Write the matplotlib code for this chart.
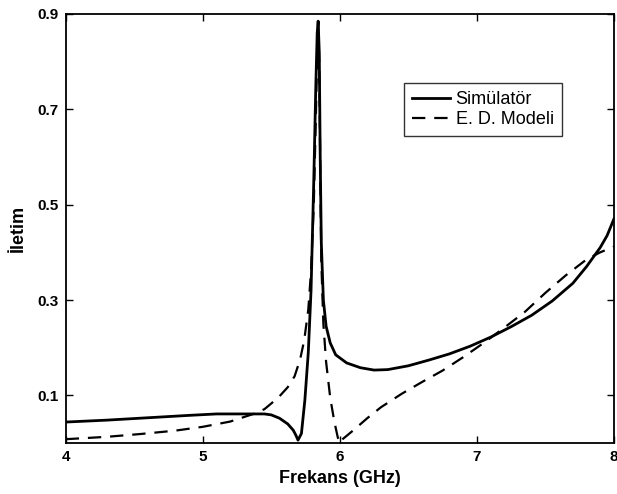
import matplotlib
matplotlib.use("Agg")
import matplotlib.pyplot as plt

plt.rcParams["font.family"] = ["Liberation Sans", "DejaVu Sans"]

# Simulated transmission
sim_freq = [4.0, 4.3, 4.6, 4.9, 5.1, 5.3, 5.45, 5.5, 5.56, 5.62, 5.66, 5.68,
            5.695, 5.72, 5.745, 5.77, 5.79, 5.81, 5.825, 5.835, 5.842, 5.85,
            5.857, 5.865, 5.88, 5.9, 5.93, 5.97, 6.05, 6.15, 6.25, 6.35, 6.5,
            6.65, 6.8, 6.95, 7.1, 7.25, 7.4, 7.55, 7.7, 7.8, 7.9, 7.95, 8.0]
sim_trans = [0.044, 0.048, 0.053, 0.058, 0.061, 0.061, 0.061, 0.059, 0.052, 0.040,
             0.027, 0.016, 0.006, 0.020, 0.090, 0.190, 0.320, 0.550, 0.750, 0.860,
             0.885, 0.820, 0.600, 0.420, 0.300, 0.245, 0.210, 0.185, 0.168, 0.158,
             0.153, 0.154, 0.162, 0.174, 0.187, 0.203, 0.222, 0.244, 0.268, 0.298,
             0.335, 0.370, 0.410, 0.435, 0.470]

# Equivalent-circuit model transmission
mod_freq = [4.0, 4.3, 4.55, 4.8, 5.0, 5.2, 5.37, 5.45, 5.55, 5.62, 5.67, 5.71,
            5.74, 5.77, 5.79, 5.81, 5.825, 5.835, 5.842, 5.85, 5.858, 5.865, 5.88,
            5.9, 5.93, 5.96, 5.985, 6.0, 6.02, 6.1, 6.2, 6.3, 6.45, 6.6, 6.75,
            6.9, 7.05, 7.2, 7.35, 7.5, 7.65, 7.8, 7.9, 8.0]
mod_trans = [0.008, 0.013, 0.019, 0.026, 0.034, 0.045, 0.061, 0.071, 0.095, 0.117,
             0.140, 0.175, 0.215, 0.280, 0.360, 0.500, 0.680, 0.820, 0.875, 0.800,
             0.550, 0.380, 0.250, 0.170, 0.095, 0.045, 0.012, 0.000, 0.008, 0.027,
             0.052, 0.075, 0.103, 0.128, 0.152, 0.180, 0.210, 0.242, 0.275, 0.315,
             0.352, 0.385, 0.400, 0.412]

x_ticks = [4, 5, 6, 7, 8]
y_ticks = [0.1, 0.3, 0.5, 0.7, 0.9]

fig = plt.figure(figsize=(6.17, 4.94), dpi=100)
ax = fig.add_axes([0.1065, 0.1032, 0.8885, 0.8685])

ax.plot(sim_freq, sim_trans, color="black", lw=2.0, label="Simülatör")
ax.plot(mod_freq, mod_trans, color="black", lw=1.6, dashes=(6, 4),
        label="E. D. Modeli")

ax.set_xlim(4, 8)
ax.set_ylim(0, 0.9)
ax.set_xticks(x_ticks)
ax.set_yticks(y_ticks)
ax.set_xticklabels([str(t) for t in x_ticks], fontsize=11, fontweight="bold")
ax.set_yticklabels([f"{t:.1f}" for t in y_ticks], fontsize=11, fontweight="bold")
ax.tick_params(direction="in", length=5, width=1, top=True, right=True, pad=5)
for s in ax.spines.values():
    s.set_linewidth(1.3)

ax.set_xlabel("Frekans (GHz)", fontsize=13, fontweight="bold", labelpad=4)
ax.set_ylabel("İletim", fontsize=13, fontweight="bold", labelpad=8)

leg = ax.legend(loc="upper right", bbox_to_anchor=(0.905, 0.839),
                borderaxespad=0, fontsize=13, frameon=True, fancybox=False,
                edgecolor="black", handlelength=2.1, handletextpad=0.3,
                labelspacing=0.15, borderpad=0.45)
leg.get_frame().set_linewidth(1.0)

fig.savefig("out.png", dpi=100)
